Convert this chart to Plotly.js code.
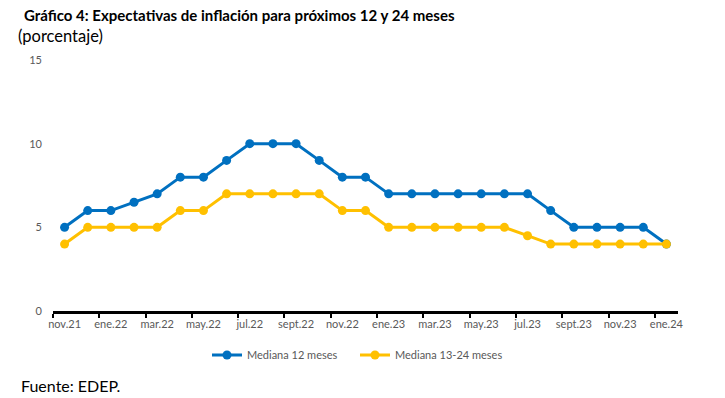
<!DOCTYPE html>
<html><head><meta charset="utf-8">
<script src="https://cdn.plot.ly/plotly-3.0.1.min.js"></script>
<style>body{margin:0;background:#fff}#chart{width:725px;height:398px}</style>
</head><body><div id="chart"></div>
<script>
const months = ["nov.21","dic.21","ene.22","feb.22","mar.22","abr.22","may.22","jun.22","jul.22","ago.22","sept.22","oct.22","nov.22","dic.22","ene.23","feb.23","mar.23","abr.23","may.23","jun.23","jul.23","ago.23","sept.23","oct.23","nov.23","dic.23","ene.24"];
const mediana12 = [5,6,6,6.5,7,8,8,9,10,10,10,9,8,8,7,7,7,7,7,7,7,6,5,5,5,5,4];
const mediana1324 = [4,5,5,5,5,6,6,7,7,7,7,7,6,6,5,5,5,5,5,5,4.5,4,4,4,4,4,4];
const tickLabels = ["nov.21","ene.22","mar.22","may.22","jul.22","sept.22","nov.22","ene.23","mar.23","may.23","jul.23","sept.23","nov.23","ene.24"];
const yTicks = [0,5,10,15];

const font = "Lato, 'Open Sans', sans-serif";
const boundaryTicks = [];
for (let i = 0; i < tickLabels.length; i++) boundaryTicks.push(2*i - 0.5);

const traces = [
  {x: months, y: mediana12, name: "Mediana 12 meses", mode: "lines+markers", legend: "legend",
   line: {color: "#0070C0", width: 3}, marker: {color: "#0070C0", size: 9}},
  {x: months, y: mediana1324, name: "Mediana 13-24 meses", mode: "lines+markers", legend: "legend2",
   line: {color: "#FFC000", width: 3}, marker: {color: "#FFC000", size: 9}},
  {x: [0], y: [0], xaxis: "x2", mode: "markers", marker: {opacity: 0}, showlegend: false, hoverinfo: "skip"}
];

const PW = 625, PH = 251;
const legStyle = {orientation: "h", xanchor: "left", yanchor: "middle", y: -(355-311)/PH,
                  font: {size: 11, color: "#595959"}, bgcolor: "rgba(0,0,0,0)"};
const layout = {
  width: 725, height: 398,
  margin: {l: 53, r: 47, t: 60, b: 87},
  paper_bgcolor: "#fff", plot_bgcolor: "#fff",
  font: {family: font, color: "#595959", size: 11},
  showlegend: true,
  legend: Object.assign({}, legStyle, {x: (213-53-6)/PW}),
  legend2: Object.assign({}, legStyle, {x: (361-53-6)/PW}),
  xaxis: {type: "category", categoryorder: "array", categoryarray: months,
          range: [-0.5, 26.5], tickvals: tickLabels, ticktext: tickLabels,
          ticks: "", showline: false, showgrid: false, zeroline: false, ticklabelstandoff: 5,
          tickfont: {size: 11, color: "#595959"}, fixedrange: true},
  xaxis2: {overlaying: "x", range: [-0.5, 26.5], tickvals: boundaryTicks,
           showticklabels: false, ticks: "outside", ticklen: 4, tickwidth: 2, tickcolor: "#000",
           showline: true, linecolor: "#000", linewidth: 3, showgrid: false, zeroline: false,
           anchor: "y", side: "bottom"},
  yaxis: {range: [0, 15], tickvals: yTicks, showgrid: false, zeroline: false, showline: false,
          ticks: "", tickfont: {size: 11, color: "#595959"}, ticklabelstandoff: 10},
  annotations: [
    {text: "<b>Gráfico 4: Expectativas de inflación para próximos 12 y 24 meses</b>", xref: "paper", yref: "paper",
     x: (22-53)/PW, y: 1 + (60-15)/PH, xanchor: "left", yanchor: "middle", showarrow: false,
     font: {size: 15, color: "#000", family: font}},
    {text: "(porcentaje)", xref: "paper", yref: "paper",
     x: (16-53)/PW, y: 1 + (60-36)/PH, xanchor: "left", yanchor: "middle", showarrow: false,
     font: {size: 16.5, color: "#000", family: font}},
    {text: "Fuente: EDEP.", xref: "paper", yref: "paper",
     x: (19-53)/PW, y: -(385-311)/PH, xanchor: "left", yanchor: "middle", showarrow: false,
     font: {size: 16, color: "#000", family: font}}
  ]
};
Plotly.newPlot("chart", traces, layout, {displayModeBar: false, staticPlot: true});
</script></body></html>
